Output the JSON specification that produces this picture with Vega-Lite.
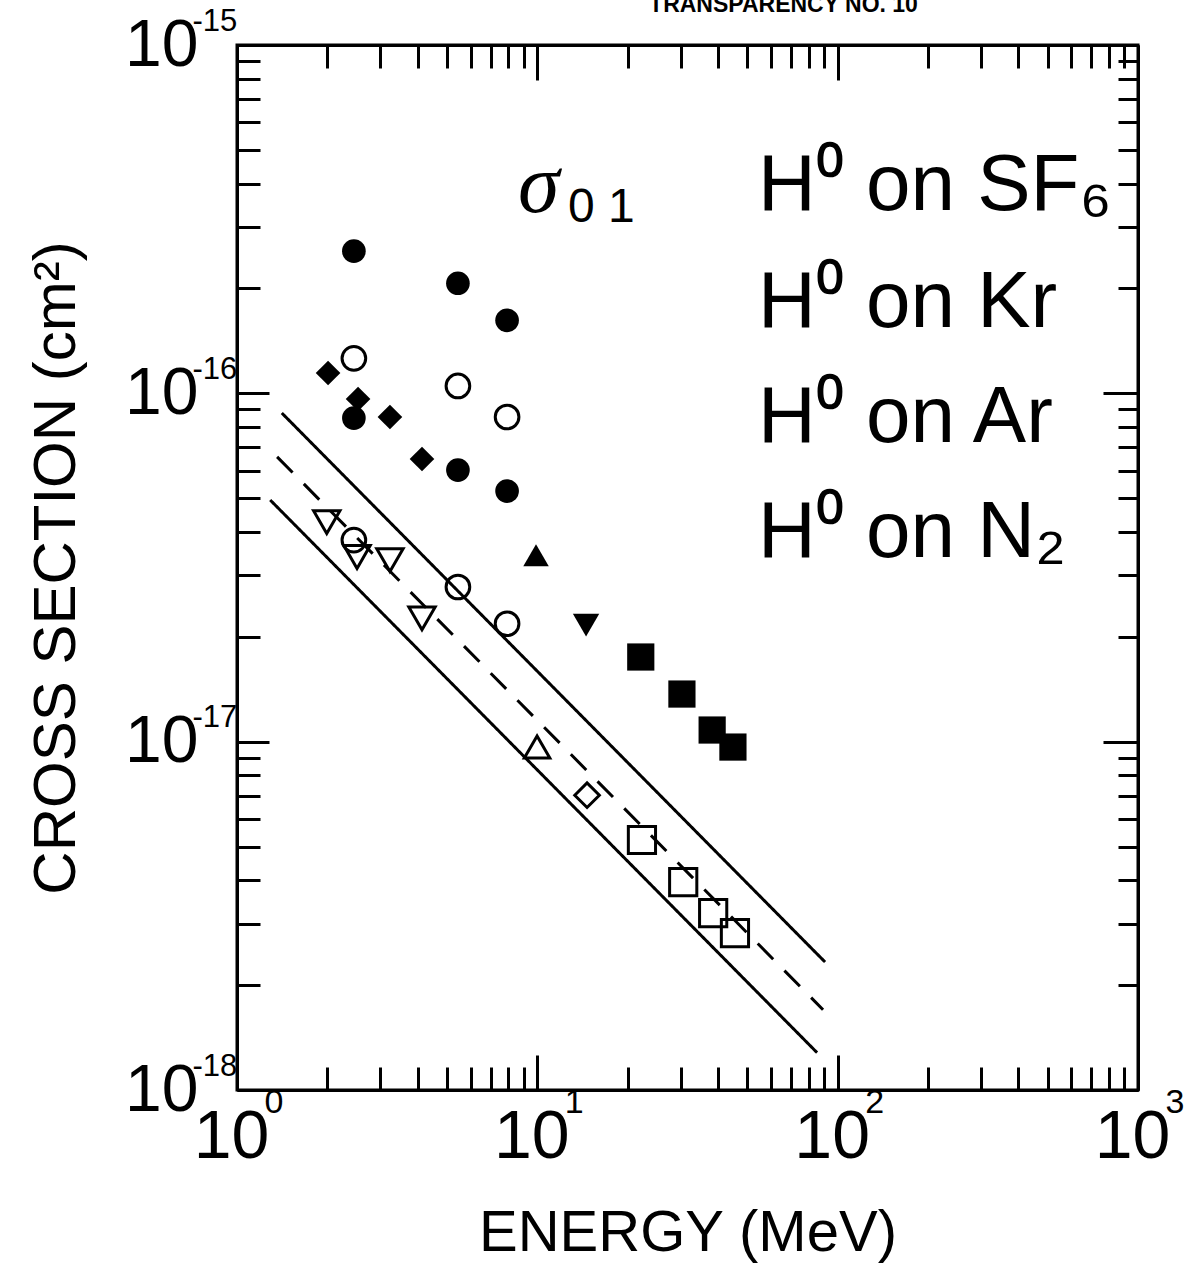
{
  "$schema": "https://vega.github.io/schema/vega-lite/v6.json",
  "width": 901,
  "height": 1045,
  "autosize": {"type": "none"},
  "padding": {"left": 237, "top": 45, "right": 52, "bottom": 185},
  "background": "white",
  "config": {
    "view": {"stroke": "black", "strokeWidth": 3},
    "font": "Liberation Sans, sans-serif"
  },
  "title": {
    "text": "TRANSPARENCY NO. 10",
    "font": "Liberation Sans, sans-serif",
    "fontWeight": "bold",
    "fontSize": 23,
    "color": "black",
    "anchor": "middle",
    "frame": "group",
    "dx": 96,
    "offset": -12
  },
  "datasets": {
    "points": [
      {"E": 2.45, "sigma": 2.56e-16, "marker": "circle", "fill": "filled"},
      {"E": 5.44, "sigma": 2.07e-16, "marker": "circle", "fill": "filled"},
      {"E": 7.93, "sigma": 1.62e-16, "marker": "circle", "fill": "filled"},
      {"E": 2.45, "sigma": 8.49e-17, "marker": "circle", "fill": "filled"},
      {"E": 5.44, "sigma": 6.02e-17, "marker": "circle", "fill": "filled"},
      {"E": 7.93, "sigma": 5.24e-17, "marker": "circle", "fill": "filled"},
      {"E": 2.45, "sigma": 1.26e-16, "marker": "circle", "fill": "open"},
      {"E": 5.44, "sigma": 1.05e-16, "marker": "circle", "fill": "open"},
      {"E": 7.93, "sigma": 8.55e-17, "marker": "circle", "fill": "open"},
      {"E": 2.45, "sigma": 3.79e-17, "marker": "circle", "fill": "open"},
      {"E": 5.44, "sigma": 2.78e-17, "marker": "circle", "fill": "open"},
      {"E": 7.93, "sigma": 2.18e-17, "marker": "circle", "fill": "open"},
      {"E": 2.01, "sigma": 1.144e-16, "marker": "diamond", "fill": "filled"},
      {"E": 2.53, "sigma": 9.63e-17, "marker": "diamond", "fill": "filled"},
      {"E": 3.23, "sigma": 8.55e-17, "marker": "diamond", "fill": "filled"},
      {"E": 4.13, "sigma": 6.48e-17, "marker": "diamond", "fill": "filled"},
      {"E": 9.9, "sigma": 3.43e-17, "marker": "triangle-up", "fill": "filled"},
      {"E": 14.53, "sigma": 2.16e-17, "marker": "triangle-down", "fill": "filled"},
      {"E": 22.1, "sigma": 1.75e-17, "marker": "square", "fill": "filled"},
      {"E": 30.3, "sigma": 1.37e-17, "marker": "square", "fill": "filled"},
      {"E": 38.2, "sigma": 1.08e-17, "marker": "square", "fill": "filled"},
      {"E": 44.8, "sigma": 9.65e-18, "marker": "square", "fill": "filled"},
      {"E": 1.99, "sigma": 4.27e-17, "marker": "triangle-down", "fill": "open"},
      {"E": 2.51, "sigma": 3.39e-17, "marker": "triangle-down", "fill": "open"},
      {"E": 3.23, "sigma": 3.32e-17, "marker": "triangle-down", "fill": "open"},
      {"E": 4.13, "sigma": 2.26e-17, "marker": "triangle-down", "fill": "open"},
      {"E": 9.98, "sigma": 9.65e-18, "marker": "triangle-up", "fill": "open"},
      {"E": 14.64, "sigma": 7.02e-18, "marker": "diamond", "fill": "open"},
      {"E": 22.3, "sigma": 5.22e-18, "marker": "square", "fill": "open"},
      {"E": 30.6, "sigma": 3.95e-18, "marker": "square", "fill": "open"},
      {"E": 38.5, "sigma": 3.22e-18, "marker": "square", "fill": "open"},
      {"E": 45.5, "sigma": 2.82e-18, "marker": "square", "fill": "open"}
    ],
    "lines": [
      {"E": 1.41, "sigma": 8.78e-17, "series": "upper", "style": "solid"},
      {"E": 90.8, "sigma": 2.33e-18, "series": "upper", "style": "solid"},
      {"E": 1.36, "sigma": 6.57e-17, "series": "middle", "style": "dashed"},
      {"E": 89.4, "sigma": 1.7e-18, "series": "middle", "style": "dashed"},
      {"E": 1.29, "sigma": 4.94e-17, "series": "lower", "style": "solid"},
      {"E": 85.4, "sigma": 1.28e-18, "series": "lower", "style": "solid"}
    ],
    "gases": [
      {"E": 54.3, "sigma": 3.36e-16, "text": "H⁰ on SF₆"},
      {"E": 54.3, "sigma": 1.55e-16, "text": "H⁰ on Kr"},
      {"E": 54.3, "sigma": 7.25e-17, "text": "H⁰ on Ar"},
      {"E": 54.3, "sigma": 3.39e-17, "text": "H⁰ on N₂"}
    ],
    "sigmaSymbol": [
      {"E": 8.63, "sigma": 3.32e-16, "text": "σ"}
    ],
    "sigmaIndex": [
      {"E": 12.65, "sigma": 3.1e-16, "text": "0 1"}
    ]
  },
  "layer": [
    {
      "data": {"name": "lines"},
      "mark": {"type": "line", "color": "black", "strokeWidth": 3},
      "encoding": {
        "x": {
          "field": "E", "type": "quantitative",
          "scale": {"type": "log", "domain": [1, 1000], "nice": false},
          "axis": {
            "orient": "bottom",
            "values": [1,2,3,4,5,6,7,8,9,10,20,30,40,50,60,70,80,90,100,200,300,400,500,600,700,800,900,1000],
            "labelExpr": "(datum.value == 1 || datum.value == 10 || datum.value == 100 || datum.value == 1000) ? '10' : ''",
            "tickSize": {"condition": {"test": "datum.value == 1 || datum.value == 10 || datum.value == 100 || datum.value == 1000", "value": -35}, "value": -23},
            "tickWidth": 3, "tickColor": "black",
            "domainColor": "black", "domainWidth": 3,
            "grid": false,
            "labelFont": "Liberation Sans, sans-serif",
            "labelFontSize": 68, "labelColor": "black",
            "labelPadding": 48, "labelOffset": -6,
            "labelOverlap": false, "labelFlush": false, "labelBound": false,
            "title": "ENERGY (MeV)",
            "titleFont": "Liberation Sans, sans-serif",
            "titleFontSize": 58, "titleFontWeight": "normal", "titleColor": "black",
            "titlePadding": 21
          }
        },
        "y": {
          "field": "sigma", "type": "quantitative",
          "scale": {"type": "log", "domain": [1e-18, 1e-15], "nice": false},
          "axis": {
            "orient": "left",
            "values": [1e-18,2e-18,3e-18,4e-18,5e-18,6e-18,7e-18,8e-18,9e-18,1e-17,2e-17,3e-17,4e-17,5e-17,6e-17,7e-17,8e-17,9e-17,1e-16,2e-16,3e-16,4e-16,5e-16,6e-16,7e-16,8e-16,9e-16,1e-15],
            "labelExpr": "abs(log(datum.value)/LN10 - round(log(datum.value)/LN10)) < 0.01 ? '10' : ''",
            "tickSize": {"condition": {"test": "abs(log(datum.value)/LN10 - round(log(datum.value)/LN10)) < 0.01", "value": -32}, "value": -23},
            "tickWidth": 3, "tickColor": "black",
            "domainColor": "black", "domainWidth": 3,
            "grid": false,
            "labelFont": "Liberation Sans, sans-serif",
            "labelFontSize": 66, "labelColor": "black",
            "labelPadding": 71, "labelOverlap": false, "labelFlush": false, "labelBound": false,
            "labelBaseline": "middle", "labelAlign": "right",
            "title": "CROSS SECTION (cm²)",
            "titleFont": "Liberation Sans, sans-serif",
            "titleFontSize": 60, "titleFontWeight": "normal", "titleColor": "black",
            "titlePadding": 37
          }
        },
        "detail": {"field": "series", "type": "nominal"},
        "strokeDash": {
          "field": "style", "type": "nominal",
          "scale": {"domain": ["solid", "dashed"], "range": [[1, 0], [22, 16]]},
          "legend": null
        }
      }
    },
    {
      "data": {"name": "points"},
      "transform": [{"filter": "datum.fill == 'filled'"}],
      "mark": {"type": "point", "filled": true, "color": "black", "opacity": 1},
      "encoding": {
        "x": {
          "field": "E", "type": "quantitative",
          "scale": {"type": "log", "domain": [1, 1000], "nice": false},
          "axis": {
            "orient": "bottom",
            "values": [1, 10, 100, 1000],
            "labelExpr": "datum.value == 1 ? '0' : datum.value == 10 ? '1' : datum.value == 100 ? '2' : '3'",
            "ticks": false, "tickSize": 0, "domain": false, "grid": false,
            "labelFont": "Liberation Sans, sans-serif",
            "labelFontSize": 34, "labelColor": "black",
            "labelAlign": "left", "labelBaseline": "top",
            "labelPadding": -5, "labelOffset": 27,
            "labelOverlap": false, "labelFlush": false, "labelBound": false,
            "title": null
          }
        },
        "y": {
          "field": "sigma", "type": "quantitative",
          "scale": {"type": "log", "domain": [1e-18, 1e-15], "nice": false},
          "axis": {
            "orient": "left",
            "values": [1e-18, 1e-17, 1e-16, 1e-15],
            "labelExpr": "'-' + format(-round(log(datum.value)/LN10), 'd')",
            "ticks": false, "tickSize": 0, "domain": false, "grid": false,
            "labelFont": "Liberation Sans, sans-serif",
            "labelFontSize": 31, "labelColor": "black",
            "labelAlign": "left", "labelBaseline": "middle",
            "labelPadding": 45, "labelOffset": -24,
            "labelOverlap": false, "labelFlush": false, "labelBound": false,
            "title": null
          }
        },
        "shape": {
          "field": "marker", "type": "nominal",
          "scale": {"domain": ["circle", "diamond", "triangle-up", "triangle-down", "square"], "range": ["circle", "diamond", "triangle-up", "triangle-down", "square"]},
          "legend": null
        },
        "size": {
          "field": "marker", "type": "ordinal",
          "scale": {"domain": ["circle", "diamond", "triangle-up", "triangle-down", "square"], "range": [560, 740, 620, 620, 450]},
          "legend": null
        }
      }
    },
    {
      "data": {"name": "points"},
      "transform": [{"filter": "datum.fill == 'open'"}],
      "mark": {"type": "point", "filled": false, "stroke": "black", "strokeWidth": 3, "opacity": 1},
      "encoding": {
        "x": {
          "field": "E", "type": "quantitative",
          "scale": {"type": "log", "domain": [1, 1000], "nice": false},
          "axis": {
            "orient": "top",
            "values": [1,2,3,4,5,6,7,8,9,10,20,30,40,50,60,70,80,90,100,200,300,400,500,600,700,800,900,1000],
            "labels": false,
            "tickSize": {"condition": {"test": "datum.value == 1 || datum.value == 10 || datum.value == 100 || datum.value == 1000", "value": -35}, "value": -23},
            "tickWidth": 3, "tickColor": "black",
            "domainColor": "black", "domainWidth": 3,
            "grid": false, "title": null
          }
        },
        "y": {
          "field": "sigma", "type": "quantitative",
          "scale": {"type": "log", "domain": [1e-18, 1e-15], "nice": false},
          "axis": {
            "orient": "right",
            "values": [1e-18,2e-18,3e-18,4e-18,5e-18,6e-18,7e-18,8e-18,9e-18,1e-17,2e-17,3e-17,4e-17,5e-17,6e-17,7e-17,8e-17,9e-17,1e-16,2e-16,3e-16,4e-16,5e-16,6e-16,7e-16,8e-16,9e-16,1e-15],
            "labels": false,
            "tickSize": {"condition": {"test": "abs(log(datum.value)/LN10 - round(log(datum.value)/LN10)) < 0.01", "value": -35}, "value": -20},
            "tickWidth": 3, "tickColor": "black",
            "domainColor": "black", "domainWidth": 3,
            "grid": false, "title": null
          }
        },
        "shape": {
          "field": "marker", "type": "nominal",
          "scale": {"domain": ["circle", "diamond", "triangle-up", "triangle-down", "square"], "range": ["circle", "diamond", "triangle-up", "triangle-down", "square"]},
          "legend": null
        },
        "size": {
          "field": "marker", "type": "ordinal",
          "scale": {"domain": ["circle", "diamond", "triangle-up", "triangle-down", "square"], "range": [460, 600, 540, 540, 380]},
          "legend": null
        }
      }
    },
    {
      "data": {"name": "gases"},
      "mark": {"type": "text", "align": "left", "baseline": "alphabetic", "fontSize": 80, "font": "Liberation Sans, sans-serif", "color": "black"},
      "encoding": {
        "x": {"field": "E", "type": "quantitative", "scale": {"type": "log", "domain": [1, 1000], "nice": false}, "axis": null},
        "y": {"field": "sigma", "type": "quantitative", "scale": {"type": "log", "domain": [1e-18, 1e-15], "nice": false}, "axis": null},
        "text": {"field": "text", "type": "nominal"}
      }
    },
    {
      "data": {"name": "sigmaSymbol"},
      "mark": {"type": "text", "align": "left", "baseline": "alphabetic", "fontSize": 84, "font": "Liberation Serif, DejaVu Serif, serif", "fontStyle": "italic", "color": "black"},
      "encoding": {
        "x": {"field": "E", "type": "quantitative", "scale": {"type": "log", "domain": [1, 1000], "nice": false}, "axis": null},
        "y": {"field": "sigma", "type": "quantitative", "scale": {"type": "log", "domain": [1e-18, 1e-15], "nice": false}, "axis": null},
        "text": {"field": "text", "type": "nominal"}
      }
    },
    {
      "data": {"name": "sigmaIndex"},
      "mark": {"type": "text", "align": "left", "baseline": "alphabetic", "fontSize": 48, "font": "Liberation Sans, sans-serif", "color": "black"},
      "encoding": {
        "x": {"field": "E", "type": "quantitative", "scale": {"type": "log", "domain": [1, 1000], "nice": false}, "axis": null},
        "y": {"field": "sigma", "type": "quantitative", "scale": {"type": "log", "domain": [1e-18, 1e-15], "nice": false}, "axis": null},
        "text": {"field": "text", "type": "nominal"}
      }
    }
  ],
  "resolve": {"axis": {"x": "independent", "y": "independent"}}
}
